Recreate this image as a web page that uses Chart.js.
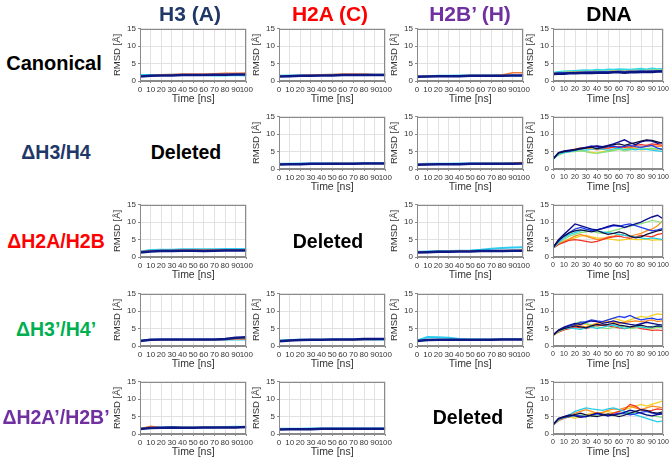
<!DOCTYPE html>
<html>
<head>
<meta charset="utf-8">
<script src="https://cdn.jsdelivr.net/npm/chart.js@4.4.1/dist/chart.umd.min.js"></script>
<style>
  body { margin: 0; background: #fff; }
  #fig { position: relative; width: 669px; height: 460px; overflow: hidden; font-family: 'Liberation Sans', Arial, sans-serif; }
  #fig canvas { position: absolute; }
  .lbl { position: absolute; transform: translate(-50%, -50%); font-weight: bold; white-space: nowrap; }
  .head { font-size: 21px; }
  .row { font-size: 19.5px; }
  .canon { font-size: 20px; }
  .del { font-size: 19.5px; color: #000; }
</style>
</head>
<body>
<div id="fig"></div>
<script>
// time axes
const timeCoarse = [0, 10, 20, 30, 40, 50, 60, 70, 80, 90, 100];
const timeFine = [0, 5, 10, 15, 20, 25, 30, 35, 40, 45, 50, 55, 60, 65, 70, 75, 80, 85, 90, 95, 100];
const xTicks = [0, 10, 20, 30, 40, 50, 60, 70, 80, 90, 100];
const yTicks = [0, 5, 10, 15];

const columnTitles = ['H3 (A)', 'H2A (C)', 'H2B\u2019 (H)', 'DNA'];
const rowTitles = ['Canonical', '\u0394H3/H4', '\u0394H2A/H2B', '\u0394H3\u2019/H4\u2019', '\u0394H2A\u2019/H2B\u2019'];

// protein panels: [cyan, warm, navy]
const canonicalH3 = [
  [1.7, 1.7, 1.7, 1.8, 1.8, 1.7, 1.7, 1.6, 1.6, 1.7, 1.6],
  [1.5, 1.6, 1.8, 1.9, 2.0, 2.0, 2.0, 2.1, 2.2, 2.2, 2.3],
  [1.3, 1.5, 1.6, 1.6, 1.7, 1.7, 1.7, 1.8, 1.8, 1.9, 1.9]
];
const canonicalH2A = [
  [1.5, 1.6, 1.6, 1.7, 1.7, 1.8, 1.8, 1.8, 1.9, 1.8, 1.8],
  [1.4, 1.5, 1.6, 1.7, 1.8, 1.9, 2.0, 2.0, 2.0, 1.9, 1.9],
  [1.3, 1.4, 1.5, 1.5, 1.6, 1.6, 1.7, 1.7, 1.7, 1.7, 1.7]
];
const canonicalH2B = [
  [1.4, 1.4, 1.5, 1.5, 1.6, 1.6, 1.6, 1.6, 1.6, 1.6, 1.6],
  [1.3, 1.4, 1.4, 1.5, 1.5, 1.6, 1.6, 1.6, 1.7, 2.4, 2.4],
  [1.2, 1.3, 1.4, 1.4, 1.4, 1.5, 1.5, 1.5, 1.5, 1.6, 1.6]
];
const dH34H2A = [
  [1.5, 1.5, 1.6, 1.6, 1.6, 1.6, 1.6, 1.6, 1.7, 1.7, 1.7],
  [1.4, 1.5, 1.5, 1.5, 1.5, 1.6, 1.6, 1.6, 1.6, 1.6, 1.6],
  [1.3, 1.4, 1.4, 1.5, 1.5, 1.5, 1.5, 1.5, 1.6, 1.6, 1.6]
];
const dH34H2B = [
  [1.4, 1.5, 1.5, 1.5, 1.6, 1.6, 1.6, 1.6, 1.6, 1.7, 1.7],
  [1.3, 1.4, 1.4, 1.5, 1.5, 1.5, 1.6, 1.6, 1.6, 1.7, 1.9],
  [1.2, 1.3, 1.4, 1.4, 1.4, 1.5, 1.5, 1.5, 1.5, 1.5, 1.6]
];
const dH2AH3 = [
  [1.6, 2.0, 2.1, 2.1, 2.2, 2.2, 2.2, 2.2, 2.3, 2.3, 2.3],
  [1.5, 1.8, 1.9, 1.9, 2.0, 2.0, 2.0, 2.0, 2.1, 2.1, 2.1],
  [1.3, 1.6, 1.7, 1.7, 1.8, 1.8, 1.7, 1.8, 1.9, 1.9, 1.9]
];
const dH2AH2B = [
  [1.5, 1.6, 1.7, 1.7, 1.8, 1.9, 2.1, 2.4, 2.6, 2.7, 2.8],
  [1.4, 1.5, 1.6, 1.6, 1.7, 1.7, 1.8, 1.8, 1.9, 1.9, 2.0],
  [1.3, 1.4, 1.5, 1.5, 1.6, 1.6, 1.7, 1.7, 1.7, 1.8, 1.8]
];
const dH34pH3 = [
  [1.6, 1.8, 1.8, 1.8, 1.8, 1.8, 1.8, 1.8, 1.8, 1.9, 1.9],
  [1.5, 1.7, 1.8, 1.8, 1.8, 1.8, 1.8, 1.8, 1.9, 2.0, 2.0],
  [1.4, 1.8, 1.9, 1.9, 1.9, 1.9, 1.9, 1.9, 2.0, 2.4, 2.5]
];
const dH34pH2A = [
  [1.6, 1.7, 1.8, 1.8, 1.8, 1.9, 1.9, 1.9, 1.9, 1.9, 1.9],
  [1.5, 1.6, 1.7, 1.7, 1.8, 1.8, 1.8, 1.8, 1.9, 1.9, 2.0],
  [1.4, 1.6, 1.7, 1.8, 1.8, 1.9, 1.9, 1.9, 2.0, 2.0, 2.0]
];
const dH34pH2B = [
  [1.6, 2.6, 2.5, 2.4, 2.0, 1.9, 1.9, 1.9, 2.0, 2.0, 2.0],
  [1.5, 1.7, 1.8, 1.8, 1.8, 1.8, 1.8, 1.9, 1.9, 1.9, 1.9],
  [1.4, 1.7, 1.8, 1.8, 1.8, 1.8, 1.8, 1.8, 1.9, 1.9, 1.9]
];
const dH2ApH3 = [
  [1.5, 1.9, 1.9, 2.0, 1.9, 1.9, 1.9, 1.9, 2.0, 2.1, 2.0],
  [1.5, 2.2, 1.8, 1.9, 1.9, 1.9, 1.9, 1.9, 1.9, 1.9, 2.0],
  [1.4, 1.7, 1.8, 1.9, 1.8, 1.8, 1.9, 1.9, 1.9, 1.9, 2.0]
];
const dH2ApH2A = [
  [1.5, 1.5, 1.5, 1.6, 1.6, 1.6, 1.6, 1.6, 1.6, 1.6, 1.6],
  [1.4, 1.4, 1.5, 1.5, 1.5, 1.5, 1.5, 1.5, 1.5, 1.5, 1.5],
  [1.3, 1.4, 1.4, 1.4, 1.5, 1.5, 1.5, 1.5, 1.5, 1.5, 1.5]
];

// DNA panels: [cyan, green, orange, blue, navy] for canonical
const canonicalDNA = [
  [2.4, 2.6, 2.7, 2.8, 2.9, 3.0, 3.1, 3.0, 3.2, 3.1, 3.3, 3.2, 3.4, 3.3, 3.2, 3.4, 3.5, 3.3, 3.6, 3.4, 3.5],
  [2.3, 2.4, 2.5, 2.6, 2.6, 2.7, 2.8, 2.7, 2.8, 2.9, 2.8, 2.9, 3.0, 2.9, 3.0, 3.1, 3.0, 3.1, 3.1, 3.2, 3.1],
  [2.2, 2.3, 2.4, 2.5, 2.5, 2.6, 2.6, 2.7, 2.7, 2.6, 2.7, 2.8, 2.7, 2.8, 2.8, 2.9, 2.8, 2.9, 3.0, 2.9, 3.0],
  [2.1, 2.2, 2.3, 2.3, 2.4, 2.4, 2.5, 2.5, 2.5, 2.6, 2.6, 2.6, 2.7, 2.6, 2.7, 2.7, 2.8, 2.7, 2.8, 2.8, 2.9],
  [2.0, 2.1, 2.1, 2.2, 2.2, 2.3, 2.3, 2.3, 2.4, 2.4, 2.4, 2.5, 2.5, 2.4, 2.5, 2.5, 2.6, 2.6, 2.6, 2.7, 2.7]
];
// deletion DNA panels: [yellow, orange, red, green, cyan, blue, navy, black]
const dH34DNA = [
  [2.8, 4.2, 4.8, 5.0, 5.2, 5.5, 5.0, 4.8, 4.6, 5.0, 5.2, 5.4, 5.6, 5.8, 6.0, 5.8, 5.5, 5.6, 5.8, 5.6, 5.5],
  [2.9, 4.5, 5.0, 5.3, 5.8, 6.0, 6.2, 5.8, 5.5, 5.7, 6.0, 6.3, 6.0, 6.5, 6.2, 6.0, 6.3, 6.5, 6.8, 6.5, 6.6],
  [2.8, 4.4, 4.9, 5.2, 5.5, 5.8, 6.0, 6.4, 6.6, 6.2, 6.0, 6.3, 6.5, 6.2, 6.4, 6.8, 7.0, 6.8, 7.2, 7.0, 6.8],
  [2.9, 4.0, 4.6, 4.9, 5.0, 5.2, 5.0, 4.6, 4.5, 4.8, 5.0, 5.3, 5.6, 5.2, 5.5, 5.8, 5.6, 5.9, 6.0, 5.7, 5.8],
  [2.7, 4.3, 4.7, 5.0, 5.3, 5.6, 5.4, 5.6, 5.9, 5.6, 5.4, 5.8, 6.0, 5.6, 5.8, 5.5, 5.8, 5.6, 5.4, 5.2, 5.0],
  [2.8, 4.6, 5.0, 5.1, 5.4, 5.8, 6.2, 6.6, 6.3, 6.0, 6.4, 6.6, 6.2, 6.5, 6.8, 6.4, 6.2, 6.5, 6.8, 6.0, 5.6],
  [2.9, 4.7, 5.2, 5.4, 5.6, 6.0, 6.2, 6.4, 6.6, 6.4, 6.8, 7.2, 7.8, 8.4, 7.6, 7.0, 7.8, 8.2, 8.0, 7.4, 7.6],
  [2.8, 4.6, 5.0, 5.3, 5.5, 5.8, 6.0, 6.3, 5.8, 6.2, 6.6, 7.0, 7.2, 6.8, 7.2, 7.6, 8.0, 8.4, 8.2, 7.8, 7.4]
];
const dH2ADNA = [
  [2.5, 3.5, 4.5, 5.0, 5.5, 6.0, 6.2, 5.8, 5.5, 5.4, 5.2, 5.0, 4.8, 5.0, 5.2, 5.0, 5.0, 5.2, 4.8, 5.0, 4.8],
  [2.6, 3.8, 4.5, 5.2, 6.0, 6.5, 6.0, 5.5, 5.0, 5.2, 5.8, 6.0, 6.5, 6.2, 6.0, 6.4, 6.8, 7.5, 8.0, 9.0, 10.5],
  [2.5, 3.6, 4.2, 4.8, 5.0, 4.8, 4.5, 4.2, 4.5, 5.0, 5.5, 5.8, 6.0, 5.6, 5.4, 5.8, 6.2, 6.0, 5.8, 6.5, 6.8],
  [2.6, 4.0, 5.0, 6.0, 6.5, 7.0, 7.2, 7.5, 7.0, 6.8, 7.2, 7.6, 8.0, 8.5, 8.8, 9.2, 9.6, 10.0, 10.5, 10.2, 9.8],
  [2.5, 4.2, 5.5, 6.5, 7.0, 7.5, 7.8, 8.0, 7.5, 7.2, 7.0, 6.8, 6.5, 6.2, 6.0, 5.8, 5.5, 5.2, 5.5, 5.3, 5.0],
  [2.6, 4.5, 6.0, 7.0, 8.0, 8.5, 8.0, 7.6, 7.8, 8.2, 8.5, 9.0, 8.8, 9.2, 9.5, 9.0, 8.5, 8.0, 7.5, 7.8, 8.2],
  [2.7, 5.0, 6.5, 8.0, 9.5, 9.0, 8.5, 8.0, 7.8, 8.2, 8.8, 9.2, 9.0, 8.5, 9.0, 9.5, 10.0, 10.8, 11.5, 12.0, 11.0],
  [2.6, 4.8, 6.0, 7.0, 7.5, 7.8, 7.5, 7.2, 7.6, 7.0, 6.5, 6.8, 7.2, 6.8, 6.0, 5.5, 5.8, 6.5, 7.0, 7.5, 7.8]
];
const dH34pDNA = [
  [3.0, 4.0, 4.8, 5.5, 6.0, 6.5, 6.2, 6.0, 6.5, 7.0, 7.5, 8.0, 7.5, 7.0, 7.5, 8.0, 8.5, 8.2, 8.8, 9.2, 9.0],
  [3.1, 4.2, 5.0, 5.5, 6.0, 5.8, 5.5, 6.0, 6.5, 6.8, 7.0, 6.8, 6.5, 6.8, 7.0, 7.2, 7.0, 7.2, 7.5, 7.0, 7.3],
  [3.0, 4.0, 4.6, 5.0, 5.5, 5.2, 5.0, 5.5, 5.8, 6.0, 5.8, 5.5, 5.2, 5.0, 5.2, 5.5, 5.0, 4.8, 4.5, 4.6, 4.4],
  [3.1, 4.2, 4.8, 5.5, 6.5, 7.0, 6.5, 6.0, 5.5, 5.2, 5.0, 5.4, 5.8, 5.5, 5.0, 5.2, 5.6, 5.2, 5.0, 5.4, 5.2],
  [3.0, 4.4, 5.0, 5.2, 5.0, 4.8, 5.2, 5.5, 5.0, 5.4, 5.8, 6.0, 5.5, 5.0, 5.4, 5.8, 5.4, 5.2, 5.6, 5.8, 5.5],
  [3.1, 4.5, 5.2, 5.8, 6.2, 6.8, 7.0, 7.5, 7.2, 7.0, 7.5, 8.0, 8.5, 8.2, 8.8, 8.0, 7.5, 7.8, 8.0, 7.6, 7.8],
  [3.2, 4.6, 5.4, 6.0, 6.5, 6.2, 6.8, 7.2, 7.0, 6.5, 6.8, 7.2, 6.8, 6.5, 6.2, 6.0, 6.4, 6.8, 6.5, 6.2, 6.0],
  [3.0, 4.5, 5.0, 5.4, 5.8, 5.5, 5.2, 5.8, 6.2, 6.0, 6.2, 6.5, 6.0, 5.8, 5.5, 5.8, 6.0, 5.6, 5.4, 5.8, 5.6]
];
const dH2ApDNA = [
  [2.5, 4.0, 4.8, 5.0, 4.5, 5.0, 5.5, 6.0, 5.8, 6.2, 6.5, 6.0, 6.5, 7.0, 7.5, 8.0, 8.5, 8.0, 8.5, 9.0, 9.5],
  [2.6, 4.2, 5.0, 5.5, 6.0, 6.5, 7.0, 6.5, 6.0, 6.2, 6.8, 7.2, 7.0, 7.5, 8.0, 7.5, 7.0, 7.5, 8.0, 7.8, 7.5],
  [2.5, 3.8, 4.5, 5.0, 5.5, 5.2, 5.0, 5.5, 6.0, 5.8, 5.5, 6.0, 6.5, 7.0, 8.5, 8.0, 7.0, 6.5, 6.8, 7.2, 7.0],
  [2.6, 4.0, 4.6, 5.0, 5.2, 5.5, 5.2, 5.0, 5.4, 5.8, 5.5, 5.2, 5.6, 6.0, 5.8, 6.2, 6.0, 5.5, 5.2, 5.0, 4.8],
  [2.5, 4.2, 5.0, 5.5, 6.5, 7.0, 7.5, 7.2, 7.0, 6.8, 7.2, 7.5, 7.0, 6.5, 6.0, 5.5, 5.0, 4.5, 4.0, 3.5, 3.8],
  [2.6, 4.3, 4.8, 5.0, 5.5, 5.2, 5.0, 5.4, 5.8, 5.5, 5.2, 5.6, 6.0, 5.8, 5.5, 5.8, 6.2, 6.5, 6.0, 5.8, 6.0],
  [2.7, 4.5, 5.0, 5.5, 5.2, 4.8, 5.0, 5.5, 6.0, 5.6, 5.2, 5.5, 5.8, 6.2, 6.8, 6.5, 6.0, 5.5, 5.2, 5.6, 5.8],
  [2.6, 4.4, 4.9, 5.2, 5.6, 6.0, 5.5, 5.2, 5.0, 5.4, 5.8, 5.4, 5.0, 5.4, 6.0, 6.5, 7.0, 6.8, 6.2, 6.0, 6.4]
];

const flatColors = ['#2ccdf0', '#ef7a3c', '#0d1a86'];
const flatWidths = [2, 1.5, 2.5];
const canonDnaColors = ['#30d8e8', '#8ee08a', '#f0a040', '#2050f0', '#0a1580'];
const canonDnaWidths = [2, 1.5, 1.5, 2, 2.5];
const dnaColors = ['#f5d020', '#ff8a1e', '#ee3322', '#86e07a', '#20cce8', '#1f3cf0', '#0c0c90', '#101040'];
const dnaWidths = [1.2, 1.2, 1.2, 1.2, 1.2, 1.3, 1.4, 1.2];

const colLeft = [140, 279, 417, 553];
const rowTop = [27, 115, 203, 292, 380];
const plotW = [107, 107, 107, 110];
const plotH = 54;

const panels = [
  { r: 0, c: 0, data: canonicalH3, time: timeCoarse, colors: flatColors, widths: flatWidths },
  { r: 0, c: 1, data: canonicalH2A, time: timeCoarse, colors: flatColors, widths: flatWidths },
  { r: 0, c: 2, data: canonicalH2B, time: timeCoarse, colors: flatColors, widths: flatWidths },
  { r: 0, c: 3, data: canonicalDNA, time: timeFine, colors: canonDnaColors, widths: canonDnaWidths },
  { r: 1, c: 1, data: dH34H2A, time: timeCoarse, colors: flatColors, widths: flatWidths },
  { r: 1, c: 2, data: dH34H2B, time: timeCoarse, colors: flatColors, widths: flatWidths },
  { r: 1, c: 3, data: dH34DNA, time: timeFine, colors: dnaColors, widths: dnaWidths },
  { r: 2, c: 0, data: dH2AH3, time: timeCoarse, colors: flatColors, widths: flatWidths },
  { r: 2, c: 2, data: dH2AH2B, time: timeCoarse, colors: flatColors, widths: flatWidths },
  { r: 2, c: 3, data: dH2ADNA, time: timeFine, colors: dnaColors, widths: dnaWidths },
  { r: 3, c: 0, data: dH34pH3, time: timeCoarse, colors: flatColors, widths: flatWidths },
  { r: 3, c: 1, data: dH34pH2A, time: timeCoarse, colors: flatColors, widths: flatWidths },
  { r: 3, c: 2, data: dH34pH2B, time: timeCoarse, colors: flatColors, widths: flatWidths },
  { r: 3, c: 3, data: dH34pDNA, time: timeFine, colors: dnaColors, widths: dnaWidths },
  { r: 4, c: 0, data: dH2ApH3, time: timeCoarse, colors: flatColors, widths: flatWidths },
  { r: 4, c: 1, data: dH2ApH2A, time: timeCoarse, colors: flatColors, widths: flatWidths },
  { r: 4, c: 3, data: dH2ApDNA, time: timeFine, colors: dnaColors, widths: dnaWidths }
];
const deletedCells = [[1, 0], [2, 1], [4, 2]];

const fig = document.getElementById('fig');
const FONT = "'Liberation Sans', Arial, sans-serif";
const NARROW = "'Liberation Sans Narrow', 'Liberation Sans', Arial, sans-serif";

// box around the plot area
const framePlugin = {
  id: 'frame',
  afterDraw(chart) {
    const { ctx, chartArea: a } = chart;
    ctx.save();
    ctx.strokeStyle = '#8a8a8a';
    ctx.lineWidth = 1;
    ctx.strokeRect(Math.round(a.left) + 0.5, Math.round(a.top) + 0.5, Math.round(a.right - a.left) - 1, Math.round(a.bottom - a.top) - 1);
    ctx.restore();
  }
};

const Y_W = 32, PAD_T = 5, PAD_R = 8, X_H = 26;

panels.forEach(p => {
  const cv = document.createElement('canvas');
  const w = Y_W + plotW[p.c] + PAD_R;
  const h = PAD_T + plotH + X_H;
  cv.width = w; cv.height = h;
  cv.style.left = (colLeft[p.c] - Y_W) + 'px';
  cv.style.top = (rowTop[p.r] - PAD_T) + 'px';
  cv.style.width = w + 'px'; cv.style.height = h + 'px';
  fig.appendChild(cv);

  const isDna = p.c === 3;
  // last series drawn on top
  const datasets = p.data.map((vals, i) => ({
    data: vals.map((v, j) => ({ x: p.time[j], y: v })),
    borderColor: p.colors[i],
    borderWidth: p.widths[i],
    pointRadius: 0,
    tension: 0,
    fill: false
  })).reverse();

  new Chart(cv, {
    type: 'line',
    data: { datasets },
    options: {
      responsive: false,
      animation: false,
      devicePixelRatio: 1,
      events: [],
      layout: { padding: { top: PAD_T, right: PAD_R, left: 0, bottom: 0 } },
      plugins: { legend: { display: false }, tooltip: { enabled: false } },
      scales: {
        x: {
          type: 'linear', min: 0, max: 100,
          afterBuildTicks: s => { s.ticks = xTicks.map(v => ({ value: v })); },
          afterFit: s => { s.height = X_H; },
          ticks: { autoSkip: false, maxRotation: 0, padding: 2, color: '#333', font: { family: FONT, size: isDna ? 7 : 8 } },
          grid: { color: '#e2e2e2', tickLength: 2, tickColor: '#888' },
          border: { color: '#8a8a8a' },
          title: { display: true, text: 'Time [ns]', color: '#333', font: { family: FONT, size: 10.5 }, padding: { top: 0, bottom: 1.5 } }
        },
        y: {
          min: 0, max: 15,
          afterBuildTicks: s => { s.ticks = yTicks.map(v => ({ value: v })); },
          afterFit: s => { s.width = Y_W; },
          ticks: { padding: 2, color: '#333', font: { family: FONT, size: 8 } },
          grid: { color: '#e2e2e2', tickLength: 2, tickColor: '#888' },
          border: { color: '#8a8a8a' },
          title: { display: true, text: 'RMSD [\u00c5]', color: '#333', font: { family: NARROW, size: 9.5 }, padding: { top: 4, bottom: 0 } }
        }
      }
    },
    plugins: [framePlugin]
  });
});

function addLabel(text, x, y, cls, color) {
  const d = document.createElement('div');
  d.className = 'lbl ' + cls;
  d.textContent = text;
  d.style.left = x + 'px';
  d.style.top = y + 'px';
  d.style.color = color;
  fig.appendChild(d);
}

const headColors = ['#1f3868', '#ff0000', '#7030a0', '#000000'];
const headX = [190, 330, 470, 609];
columnTitles.forEach((t, i) => addLabel(t, headX[i], 14, 'head', headColors[i]));

const rowColors = ['#000000', '#1f3868', '#ff0000', '#00b050', '#7030a0'];
const rowY = [63, 152, 241, 329, 417];
rowTitles.forEach((t, i) => addLabel(t, i === 0 ? 54 : 56, rowY[i], i === 0 ? 'canon' : 'row', rowColors[i]));

const delX = [186, 328, 468];
deletedCells.forEach(([r, c]) => addLabel('Deleted', delX[c], rowY[r], 'del', '#000'));
</script>
</body>
</html>
